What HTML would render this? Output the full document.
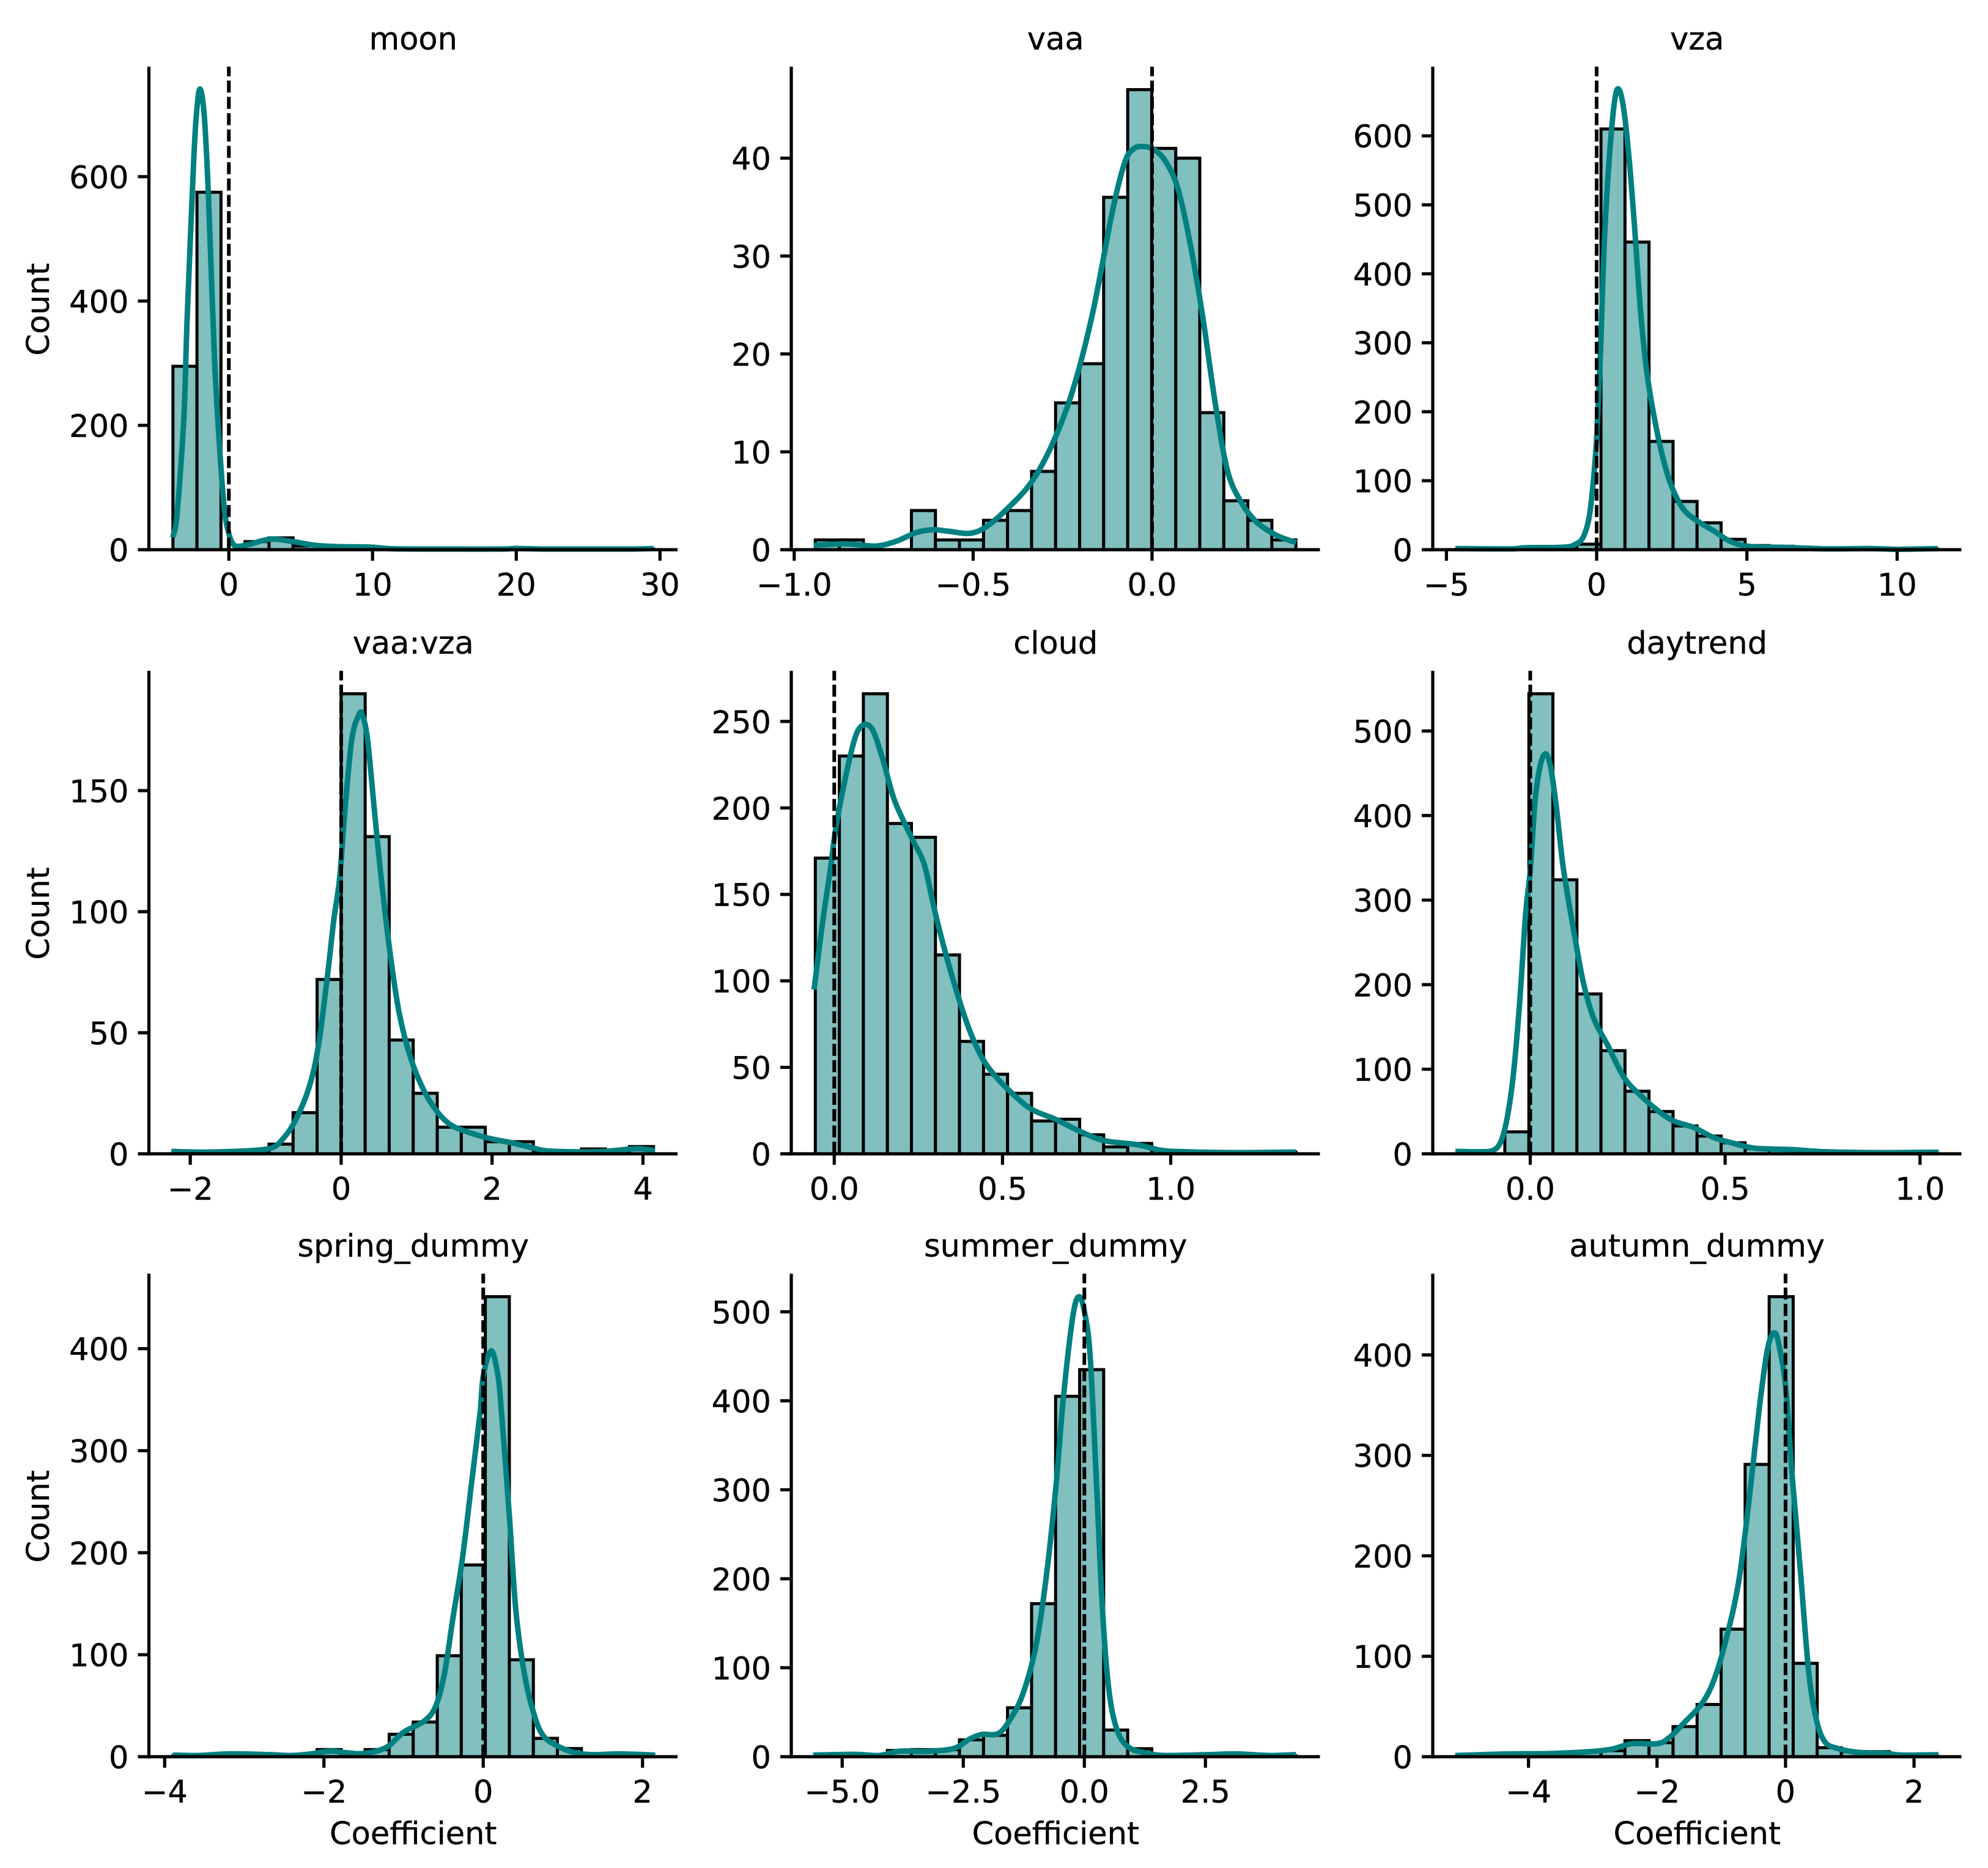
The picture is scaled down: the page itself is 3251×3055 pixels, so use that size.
<!DOCTYPE html>
<html lang="en">
<head>
<meta charset="utf-8">
<title>Coefficient distributions</title>
<style>
html,body{margin:0;padding:0;background:#fff;}
svg{display:block;}
text{font-family:"DejaVu Sans","Liberation Sans",sans-serif;font-size:51px;fill:#000;stroke:#000;stroke-width:0.4px;}
</style>
</head>
<body>
<svg id="chart" xmlns="http://www.w3.org/2000/svg" width="3251" height="3055" viewBox="0 0 3251 3055"></svg>
<script>
// ---------- data: moon ----------
const moonBinRange = [-3.89, 29.55];
const moonCounts = [295,575,0,13,19,6,3,2,1,1,0,0,0,0,1,0,0,0,0,1];
const moonKdeX = [-3.9,-3.6,-3.13,-2.9,-2.44,-2.19,-1.97,-1.69,-1.41,-1.0,-0.63,-0.31,0,0.3,0.67,1.5,2.4,3.2,4.5,6,7.5,9,10,11.5,15,19,20,22,25,28,29.55];
const moonKdeY = [20,58,212,372,628,717,740,692,564,308,160,65,26,9,5.5,9,15,17,13,7,5,4.5,4,1.5,1,1,2,1,1,1,2];
const moonXTicks = [0,10,20,30];
const moonXLabels = ["0","10","20","30"];
const moonYTicks = [0,200,400,600];
const moonYLabels = ["0","200","400","600"];
// ---------- data: vaa ----------
const vaaBinRange = [-0.941, 0.402];
const vaaCounts = [1,1,0,0,4,1,1,3,4,8,15,19,36,47,41,40,14,5,3,1];
const vaaKdeX = [-0.945,-0.854,-0.774,-0.716,-0.659,-0.613,-0.568,-0.51,-0.465,-0.407,-0.339,-0.281,-0.224,-0.167,-0.11,-0.076,-0.053,-0.03,0.005,0.039,0.073,0.108,0.142,0.176,0.21,0.245,0.29,0.348,0.403];
const vaaKdeY = [0.45,0.6,0.37,0.85,1.75,2.04,1.88,1.67,2.3,4.1,6.8,10.6,16,24,34.7,39.6,40.9,41.2,40.9,39.6,36.8,31,23.7,15.1,8.2,5.1,2.9,1.47,0.73];
const vaaXTicks = [-1,-0.5,0];
const vaaXLabels = ["\u22121.0","\u22120.5","0.0"];
const vaaYTicks = [0,10,20,30,40];
const vaaYLabels = ["0","10","20","30","40"];
// ---------- data: vza ----------
const vzaBinRange = [-4.655, 11.34];
const vzaCounts = [1,0,2,2,2,8,610,446,157,70,39,15,6,5,3,1,1,1,0,1];
const vzaKdeX = [-4.7,-2.9,-2.36,-1.13,-0.72,-0.45,-0.25,-0.11,0,0.12,0.26,0.44,0.61,0.75,0.91,1.08,1.25,1.46,1.66,1.87,2.14,2.41,2.69,2.96,3.37,3.91,4.32,4.73,5.28,6.1,6.9,7.73,9.1,10.05,11.35];
const vzaKdeY = [1.7,1.2,2.9,3.5,7.5,18,47,99,162,278,451,579,654,667,636,567,475,347,261,203,145,102,73,55,41,27,15,7.5,4,3.5,2.3,1.2,1.7,0.6,1.7];
const vzaXTicks = [-5,0,5,10];
const vzaXLabels = ["\u22125","0","5","10"];
const vzaYTicks = [0,100,200,300,400,500,600];
const vzaYLabels = ["0","100","200","300","400","500","600"];
// ---------- data: vaa:vza ----------
const vaaVzaBinRange = [-2.23, 4.14];
const vaaVzaCounts = [1,0,1,1,4,17,72,190,131,47,25,11,11,5,5,1,1,2,1,3];
const vaaVzaKdeX = [-2.25,-1.85,-1.43,-0.96,-0.78,-0.6,-0.42,-0.3,-0.18,-0.1,-0.02,0.05,0.14,0.23,0.28,0.35,0.44,0.53,0.65,0.77,0.92,1.09,1.27,1.45,1.66,1.96,2.25,2.52,2.73,3.2,3.5,3.92,4.16];
const vaaVzaKdeY = [1,0.7,1,2.1,5.9,14.2,28,45,74,96,114,142,171,181,181.4,171,142,114,82.5,58,39.7,26.5,17.5,12,9.2,6.4,4.6,2.6,1.2,0.8,1,2.1,1.3];
const vaaVzaXTicks = [-2,0,2,4];
const vaaVzaXLabels = ["\u22122","0","2","4"];
const vaaVzaYTicks = [0,50,100,150];
const vaaVzaYLabels = ["0","50","100","150"];
// ---------- data: cloud ----------
const cloudBinRange = [-0.0563, 1.372];
const cloudCounts = [171,230,266,191,183,115,65,46,35,19,20,11,4,6,2,1,1,1,0,1];
const cloudKdeX = [-0.06,-0.036,-0.012,0.006,0.036,0.061,0.079,0.1,0.119,0.146,0.176,0.207,0.237,0.268,0.298,0.328,0.365,0.401,0.438,0.474,0.523,0.584,0.657,0.73,0.803,0.9,0.973,1.046,1.19,1.372];
const cloudKdeY = [95,132,164,190,220,240,247,248,243,227,206,192,180,167,141,118,93,72,56,46,36,26,20,13,7.6,5.3,2,1.2,0.7,1];
const cloudXTicks = [0,0.5,1];
const cloudXLabels = ["0.0","0.5","1.0"];
const cloudYTicks = [0,50,100,150,200,250];
const cloudYLabels = ["0","50","100","150","200","250"];
// ---------- data: daytrend ----------
const daytrendBinRange = [-0.1885, 1.0445];
const daytrendCounts = [1,0,26,544,324,189,122,74,50,33,21,13,6,5,4,2,1,1,1,1];
const daytrendKdeX = [-0.192,-0.138,-0.096,-0.075,-0.059,-0.043,-0.027,-0.012,0,0.012,0.025,0.039,0.052,0.067,0.083,0.099,0.115,0.136,0.162,0.199,0.241,0.283,0.325,0.367,0.42,0.472,0.525,0.577,0.672,0.756,0.893,1.048];
const daytrendKdeY = [3,2.4,4,15,43,95,180,283,335,415,458,473,458,410,344,297,255,203,161,128,90,69,52,39,31,19,12,6.6,5,2.4,1.4,1.9];
const daytrendXTicks = [0,0.5,1];
const daytrendXLabels = ["0.0","0.5","1.0"];
const daytrendYTicks = [0,100,200,300,400,500];
const daytrendYLabels = ["0","100","200","300","400","500"];
// ---------- data: spring_dummy ----------
const springBinRange = [-3.896, 2.138];
const springCounts = [1,1,2,2,1,1,7,2,7,22,34,99,188,451,95,18,8,1,2,1];
const springKdeX = [-3.9,-3.58,-3.19,-2.68,-2.4,-2.12,-1.92,-1.73,-1.5,-1.22,-1.0,-0.74,-0.6,-0.49,-0.38,-0.26,-0.15,-0.04,0.0,0.1,0.186,0.23,0.33,0.41,0.52,0.64,0.75,0.92,1.14,1.37,1.7,2.16];
const springKdeY = [1.6,1.2,2.8,2,1.2,3.2,5.5,4,3.2,9,24,35,49,80,136,195,266,337,373,398,373,337,234,143,80,41,21,11,4.3,2,2.8,1.6];
const springXTicks = [-4,-2,0,2];
const springXLabels = ["\u22124","\u22122","0","2"];
const springYTicks = [0,100,200,300,400];
const springYLabels = ["0","100","200","300","400"];
// ---------- data: summer_dummy ----------
const summerBinRange = [-5.555, 4.368];
const summerCounts = [1,3,2,7,8,8,19,24,55,172,405,435,30,9,1,1,1,2,1,1];
const summerKdeX = [-5.6,-4.74,-4.23,-3.81,-3.31,-2.71,-2.38,-2.12,-1.78,-1.53,-1.28,-1.02,-0.81,-0.6,-0.43,-0.237,-0.11,0.01,0.12,0.245,0.37,0.5,0.67,0.92,1.34,1.68,2.53,3.12,3.8,4.37];
const summerKdeY = [1.8,2.7,1.4,6.3,5.9,9,19.5,25,26,42,69,119,192,296,405,495,517,498,450,314,169,78,31,10.4,3.6,1.4,2.3,3.2,1.4,2.3];
const summerXTicks = [-5,-2.5,0,2.5];
const summerXLabels = ["\u22125.0","\u22122.5","0.0","2.5"];
const summerYTicks = [0,100,200,300,400,500];
const summerYLabels = ["0","100","200","300","400","500"];
// ---------- data: autumn_dummy ----------
const autumnBinRange = [-5.116, 2.363];
const autumnCounts = [1,1,2,2,3,5,6,16,14,30,52,127,291,458,93,9,5,5,1,1];
const autumnKdeX = [-5.14,-4.3,-3.66,-3.02,-2.7,-2.39,-2,-1.81,-1.56,-1.3,-1.11,-0.92,-0.73,-0.57,-0.41,-0.28,-0.17,-0.09,0.006,0.1,0.23,0.36,0.48,0.61,0.8,1.12,1.57,1.82,2.38];
const autumnKdeY = [1.2,2.8,3.2,5.2,7.6,13,13,19,35,53,77,118,174,254,346,406,422,406,366,282,186,85,37,15,8.4,4.4,3.2,1.6,2];
const autumnXTicks = [-4,-2,0,2];
const autumnXLabels = ["\u22124","\u22122","0","2"];
const autumnYTicks = [0,100,200,300,400];
const autumnYLabels = ["0","100","200","300","400"];

const panelTitles = ["moon","vaa","vza","vaa:vza","cloud","daytrend","spring_dummy","summer_dummy","autumn_dummy"];

// ---------- layout ----------
const colLeft = [243.5, 1294, 2343];
const rowTop = [109, 1097, 2083];
const axW = 864.5, axH = 790;
const NS = "http://www.w3.org/2000/svg";
const svg = document.getElementById("chart");

function make(tag, attrs, parent, text) {
  const el = document.createElementNS(NS, tag);
  for (const k in attrs) el.setAttribute(k, attrs[k]);
  if (text !== undefined) el.textContent = text;
  parent.appendChild(el);
  return el;
}

function smoothPath(pts) {
  let d = "M" + pts[0][0].toFixed(2) + " " + pts[0][1].toFixed(2);
  for (let i = 0; i < pts.length - 1; i++) {
    const p0 = pts[Math.max(i - 1, 0)], p1 = pts[i], p2 = pts[i + 1], p3 = pts[Math.min(i + 2, pts.length - 1)];
    const c1x = p1[0] + (p2[0] - p0[0]) / 6, c1y = p1[1] + (p2[1] - p0[1]) / 6;
    const c2x = p2[0] - (p3[0] - p1[0]) / 6, c2y = p2[1] - (p3[1] - p1[1]) / 6;
    d += "C" + c1x.toFixed(2) + " " + c1y.toFixed(2) + " " + c2x.toFixed(2) + " " + c2y.toFixed(2) + " " + p2[0].toFixed(2) + " " + p2[1].toFixed(2);
  }
  return d;
}

function drawPanel(index, binRange, counts, kdeX, kdeY, xTicks, xLabels, yTicks, yLabels) {
  const col = index % 3, row = Math.floor(index / 3);
  const left = colLeft[col], top = rowTop[row], bottom = top + axH, right = left + axW;
  const span = binRange[1] - binRange[0];
  const xMin = binRange[0] - 0.05 * span, xMax = binRange[1] + 0.05 * span;
  const yMax = Math.max(Math.max.apply(null, counts), Math.max.apply(null, kdeY)) * 1.05;
  const xScale = v => left + (v - xMin) / (xMax - xMin) * axW;
  const yScale = v => bottom - v / yMax * axH;

  const g = make("g", {}, svg);
  
  

  const binW = span / counts.length;
  counts.forEach((c, i) => {
    const x0 = xScale(binRange[0] + i * binW), x1 = xScale(binRange[0] + (i + 1) * binW);
    const bar = make("rect", {x: x0, y: yScale(c), width: x1 - x0, height: yScale(0) - yScale(c), fill: "#82bfbf", stroke: "#000", "stroke-width": 5}, g);
    
    
  });

  const pts = kdeX.map((v, i) => [xScale(v), yScale(kdeY[i])]);
  const kde = make("path", {d: smoothPath(pts), fill: "none", stroke: "#008080", "stroke-width": 9, "stroke-linecap": "butt", "stroke-linejoin": "round"}, g);
  
  

  const zero = make("line", {x1: xScale(0), x2: xScale(0), y1: bottom, y2: top, stroke: "#000", "stroke-width": 6, "stroke-dasharray": "19.7 7"}, g);
  
  

  const leftSpine = make("line", {x1: left, x2: left, y1: top, y2: bottom + 2.6, stroke: "#000", "stroke-width": 5.2}, g);
  
  
  const bottomSpine = make("line", {x1: left - 2.6, x2: right, y1: bottom, y2: bottom, stroke: "#000", "stroke-width": 5.2}, g);
  
  

  xTicks.forEach((v, i) => {
    const x = xScale(v);
    const tick = make("line", {x1: x, x2: x, y1: bottom, y2: bottom + 18, stroke: "#000", "stroke-width": 5.2}, g);
    
    
    const label = make("text", {x: x, y: bottom + 75, "text-anchor": "middle"}, g, xLabels[i]);
    
    
  });
  yTicks.forEach((v, i) => {
    const y = yScale(v);
    const tick = make("line", {x1: left, x2: left - 18, y1: y, y2: y, stroke: "#000", "stroke-width": 5.2}, g);
    
    
    const label = make("text", {x: left - 33, y: y + 19, "text-anchor": "end"}, g, yLabels[i]);
    
    
  });

  const title = make("text", {x: left + axW / 2, y: top - 28, "text-anchor": "middle"}, g, panelTitles[index]);
  
  

  if (col === 0) {
    const yLab = make("text", {x: 0, y: 0, "text-anchor": "middle", transform: "translate(80 " + (top + axH / 2 + 2) + ") rotate(-90)"}, g, "Count");
    
    
  }
  if (row === 2) {
    const xLab = make("text", {x: left + axW / 2, y: bottom + 143, "text-anchor": "middle"}, g, "Coefficient");
    
    
  }
}

drawPanel(0, moonBinRange, moonCounts, moonKdeX, moonKdeY, moonXTicks, moonXLabels, moonYTicks, moonYLabels);
drawPanel(1, vaaBinRange, vaaCounts, vaaKdeX, vaaKdeY, vaaXTicks, vaaXLabels, vaaYTicks, vaaYLabels);
drawPanel(2, vzaBinRange, vzaCounts, vzaKdeX, vzaKdeY, vzaXTicks, vzaXLabels, vzaYTicks, vzaYLabels);
drawPanel(3, vaaVzaBinRange, vaaVzaCounts, vaaVzaKdeX, vaaVzaKdeY, vaaVzaXTicks, vaaVzaXLabels, vaaVzaYTicks, vaaVzaYLabels);
drawPanel(4, cloudBinRange, cloudCounts, cloudKdeX, cloudKdeY, cloudXTicks, cloudXLabels, cloudYTicks, cloudYLabels);
drawPanel(5, daytrendBinRange, daytrendCounts, daytrendKdeX, daytrendKdeY, daytrendXTicks, daytrendXLabels, daytrendYTicks, daytrendYLabels);
drawPanel(6, springBinRange, springCounts, springKdeX, springKdeY, springXTicks, springXLabels, springYTicks, springYLabels);
drawPanel(7, summerBinRange, summerCounts, summerKdeX, summerKdeY, summerXTicks, summerXLabels, summerYTicks, summerYLabels);
drawPanel(8, autumnBinRange, autumnCounts, autumnKdeX, autumnKdeY, autumnXTicks, autumnXLabels, autumnYTicks, autumnYLabels);
</script>
</body>
</html>
